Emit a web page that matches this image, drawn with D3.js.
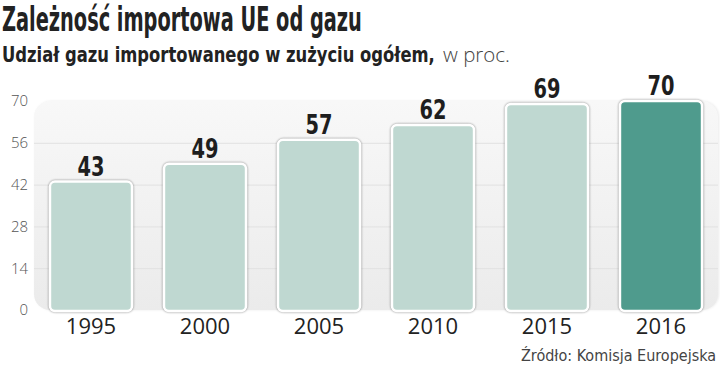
<!DOCTYPE html>
<html>
<head>
<meta charset="utf-8">
<script src="https://cdn.jsdelivr.net/npm/d3@7"></script>
<style>
  body { margin: 0; background: #fff; }
  svg { display: block; }
  .cond { font-family: "DejaVu Sans Condensed", "DejaVu Sans", sans-serif; font-stretch: condensed; }
  .plain { font-family: "Open Sans", "Noto Sans", sans-serif; }
</style>
</head>
<body>
<svg id="chart" width="720" height="367"></svg>
<script>
var years = ['1995', '2000', '2005', '2010', '2015', '2016']
var shares = [43, 49, 57, 62, 69, 70]
var yTicks = [0, 14, 28, 42, 56, 70]

var title = 'Zależność importowa UE od gazu'
var subtitleBold = 'Udział gazu importowanego w zużyciu ogółem,'
var subtitleLight = 'w proc.'
var source = 'Źródło:  Komisja Europejska'

var W = 720, H = 367
var panelL = 34, panelR = 718, panelT = 101, panelB = 310

var svg = d3.select('#chart')

var x = d3.scaleBand().domain(years).range([panelL, panelR]).paddingInner(0.28).paddingOuter(0.14)
var y = d3.scaleLinear().domain([0, 70]).range([panelB, panelT])

// squeeze a text horizontally to a given width (keeps bbox honest)
function fitWidth(sel, x0, w) {
  var n = sel.node().getComputedTextLength()
  sel.attr('x', 0).attr('transform', 'translate(' + x0 + ',0) scale(' + (w / n) + ',1)')
}

// panel background
var defs = svg.append('defs')
var grad = defs.append('linearGradient').attr('id', 'panel').attr('x1', 0).attr('y1', 0).attr('x2', 0).attr('y2', 1)
grad.append('stop').attr('offset', '0%').attr('stop-color', '#f8f8f8')
grad.append('stop').attr('offset', '100%').attr('stop-color', '#ebebeb')

svg.append('rect')
  .attr('x', panelL).attr('y', panelT)
  .attr('width', panelR - panelL).attr('height', panelB - panelT)
  .attr('rx', 16).attr('ry', 16)
  .attr('fill', 'url(#panel)')
  .style('filter', 'drop-shadow(1px 0px 1px rgba(0,0,0,0.08))')

// grid
svg.append('g').selectAll('line')
  .data(yTicks.filter(function(d) { return d > 0 && d < 70 }))
  .enter().append('line')
  .attr('x1', panelL).attr('x2', panelR)
  .attr('y1', function(d) { return y(d) + 0.5 })
  .attr('y2', function(d) { return y(d) + 0.5 })
  .attr('stroke', '#e1e1e1').attr('stroke-width', 1)

// y axis labels
var yAxis = d3.axisLeft(y).tickValues(yTicks).tickSize(0).tickPadding(0)
var ga = svg.append('g').attr('transform', 'translate(28,0)').call(yAxis)
ga.select('.domain').remove()
ga.selectAll('text')
  .attr('class', 'plain')
  .style('font-size', '15px')
  .attr('fill', '#555')
  .attr('font-weight', 300)

// bars
svg.append('g').selectAll('rect')
  .data(shares)
  .enter().append('rect')
  .attr('x', function(d, i) { return x(years[i]) })
  .attr('y', function(d) { return y(d) })
  .attr('width', x.bandwidth())
  .attr('height', function(d) { return panelB + 1 - y(d) })
  .attr('rx', 5).attr('ry', 5)
  .attr('fill', function(d, i) { return i === years.length - 1 ? '#4f9b8d' : '#bfd8d1' })
  .attr('stroke', '#ffffff').attr('stroke-width', 2.5)
  .style('filter', 'drop-shadow(0px 0px 1px rgba(0,0,0,0.45))')

// value labels
svg.append('g').selectAll('text')
  .data(shares)
  .enter().append('text')
  .attr('class', 'cond')
  .attr('x', function(d, i) { return x(years[i]) + x.bandwidth() / 2 })
  .attr('y', function(d) { return y(d) - 6 })
  .attr('text-anchor', 'middle')
  .attr('font-weight', 'bold')
  .style('font-size', '27px')
  .attr('fill', '#1e1e1e')
  .attr('textLength', 27).attr('lengthAdjust', 'spacingAndGlyphs')
  .text(function(d) { return d })

// x labels
svg.append('g').selectAll('text')
  .data(years)
  .enter().append('text')
  .attr('class', 'plain')
  .attr('x', function(d) { return x(d) + x.bandwidth() / 2 })
  .attr('y', 334)
  .attr('text-anchor', 'middle')
  .style('font-size', '22px')
  .attr('fill', '#222')
  .text(function(d) { return d })

// title
var t = svg.append('text')
  .attr('class', 'cond')
  .attr('y', 31)
  .attr('font-weight', 'bold')
  .style('font-size', '33px')
  .attr('fill', '#222')
  .text(title)
fitWidth(t, 2, 360)

var sb = svg.append('text')
  .attr('class', 'cond')
  .attr('y', 62)
  .attr('font-weight', 'bold')
  .style('font-size', '22px')
  .attr('fill', '#222')
  .text(subtitleBold)
fitWidth(sb, 2, 433)

var sl = svg.append('text')
  .attr('class', 'plain')
  .attr('y', 62)
  .attr('font-weight', 300)
  .style('font-size', '21px')
  .attr('fill', '#444')
  .text(subtitleLight)
fitWidth(sl, 443, 67)

svg.append('text')
  .attr('class', 'cond')
  .attr('x', 716).attr('y', 361)
  .attr('text-anchor', 'end')
  .style('font-size', '16px')
  .attr('fill', '#444')
  .text(source)
</script>
</body>
</html>
